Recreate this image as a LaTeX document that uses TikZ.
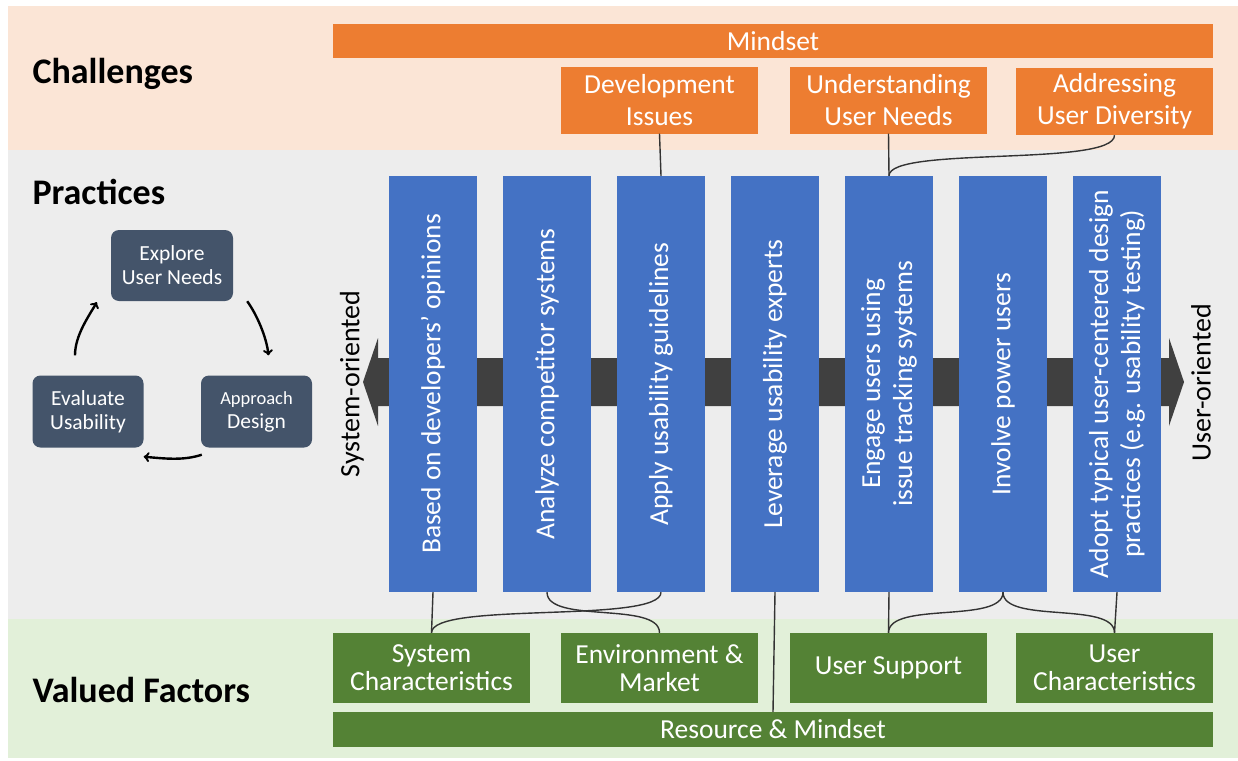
\documentclass[tikz,border=0pt]{standalone}
\usepackage{fontspec}
\setmainfont{Carlito}
\definecolor{challengecolor}{HTML}{ED7D31}
\definecolor{practicecolor}{HTML}{4472C4}
\definecolor{factorcolor}{HTML}{548235}
\definecolor{cyclecolor}{HTML}{44546A}
\definecolor{peachband}{HTML}{FBE5D6}
\definecolor{grayband}{HTML}{EDEDED}
\definecolor{greenband}{HTML}{E2F0D9}
\definecolor{axiscolor}{HTML}{404040}
\usetikzlibrary{arrows,calc,positioning}
\tikzset{
	challenge/.style={
		rectangle,
		fill=challengecolor,
		text=white,
		minimum width=197pt,
		minimum height=67pt,
		inner sep=0pt,
		align=center,
		font=\fontsize{27.5}{32}\selectfont
	},
	practice/.style={
		rectangle,
		rotate=90,
		fill=practicecolor,
		text=white,
		minimum width=416pt,
		minimum height=88pt,
		inner sep=0pt,
		align=center,
		font=\fontsize{27.5}{32}\selectfont
	},
	factor/.style={
		rectangle,
		fill=factorcolor,
		text=white,
		minimum width=197pt,
		minimum height=70pt,
		inner sep=0pt,
		align=center,
		font=\fontsize{27.5}{28}\selectfont
	},
	wide/.style={
		minimum width=880pt,
		minimum height=34pt
	},
	stage/.style={
		rectangle,
		rounded corners=8pt,
		fill=cyclecolor,
		text=white,
		minimum width=111pt,
		minimum height=72pt,
		inner sep=0pt,
		align=center,
		font=\fontsize{21.5}{24}\selectfont
	},
	heading/.style={
		anchor=west,
		font=\fontsize{36}{38}\selectfont\bfseries
	},
	orient/.style={
		rotate=90,
		font=\fontsize{28}{30}\selectfont
	},
	link/.style={
		draw=black!80,
		line width=1.4pt
	},
	cyclearrow/.style={
		draw=black,
		line width=2.4pt,
		->,
		>=to
	},
}

\begin{document}
\begin{tikzpicture}[x=1pt,y=-1pt]
\useasboundingbox (0,0) rectangle (1238,760);
% bands
\fill[peachband] (8,6) rectangle (1238,150);
\fill[grayband] (8,150) rectangle (1238,619);
\fill[greenband] (8,619) rectangle (1238,758);
\node[heading] (chall) at (29,74) {Challenges};
\node[heading] (pract) at (29,192) {Practices};
\node[heading] (valued) at (29,690) {Valued Factors};
% axis arrow
\fill[axiscolor] (363,382) -- (378,338) -- (378,358) -- (1169,358) -- (1169,338)
	-- (1184,382) -- (1169,426) -- (1169,406) -- (378,406) -- (378,426) -- cycle;
\node[orient] (sysorient) at (352,384) {System-oriented};
\node[orient] (userorient) at (1201,383) {User-oriented};
% practices
\node[practice] (p1) at (433,384) {Based on developers’ opinions};
\node[practice] (p2) at (547,384) {Analyze competitor systems};
\node[practice] (p3) at (661,384) {Apply usability guidelines};
\node[practice] (p4) at (775,384) {Leverage usability experts};
\node[practice] (p5) at (889,384) {Engage users using\\issue tracking systems};
\node[practice] (p6) at (1003,384) {Involve power users};
\node[practice] (p7) at (1117,384) {Adopt typical user-centered design\\practices (e.g. usability testing)};
% challenges
\node[challenge,wide] (mindset) at (773,41) {Mindset};
\node[challenge] (devissues) at (659.5,100) {Development\\Issues};
\node[challenge] (userneeds) at (888.5,100) {Understanding\\User Needs};
\node[challenge] (diversity) at (1114.5,101.5) {Addressing\\User Diversity};
% valued factors
\node[factor] (syschar) at (431.5,668) {System\\Characteristics};
\node[factor] (market) at (659.5,668) {Environment \&\\Market};
\node[factor] (support) at (888.5,668) {User Support};
\node[factor] (userchar) at (1114.5,668) {User\\Characteristics};
\node[factor,wide,minimum height=35pt] (resource) at (773,729.5) {Resource \& Mindset};
% links to challenges
\draw[link] (devissues.south) -- (p3.east);
\draw[link] (userneeds.south) -- (p5.east);
\draw[link] (diversity.south) .. controls +(0,32) and +(0,-30) .. (p5.east);
% links to factors
\draw[link] (p1.west) -- (syschar.north);
\draw[link] (p2.west) .. controls +(0,32) and +(0,-32) .. (market.north);
\draw[link] (p3.west) .. controls +(0,32) and +(0,-32) .. (syschar.north);
\draw[link] (p4.west) -- (resource.north);
\draw[link] (p5.west) -- (support.north);
\draw[link] (p6.west) .. controls +(0,32) and +(0,-32) .. (support.north);
\draw[link] (p6.west) .. controls +(0,32) and +(0,-32) .. (userchar.north);
\draw[link] (p7.west) -- (userchar.north);
% cycle
\node[stage,minimum width=122pt,minimum height=71pt] (explore) at (172,265.5) {Explore\\User Needs};
\node[stage] (evaluate) at (88,411.5) {Evaluate\\Usability};
\node[stage] (approach) at (256.5,411.5) {{\fontsize{18.5}{22}\selectfont Approach}\\Design};
\draw[cyclearrow] ($(explore.south east)+(14,0)$) .. controls +(10,14) and +(-2,-18) .. ($(approach.north)+(12,-20)$);
\draw[cyclearrow] ($(approach.south west)+(1,7)$) .. controls +(-18,6) and +(22,2) .. ($(evaluate.south east)+(0,9)$);
\draw[cyclearrow] ($(evaluate.north)+(-13,-20)$) .. controls +(0,-20) and +(-8,14) .. ($(explore.south west)+(-14,1)$);
\end{tikzpicture}
\end{document}
